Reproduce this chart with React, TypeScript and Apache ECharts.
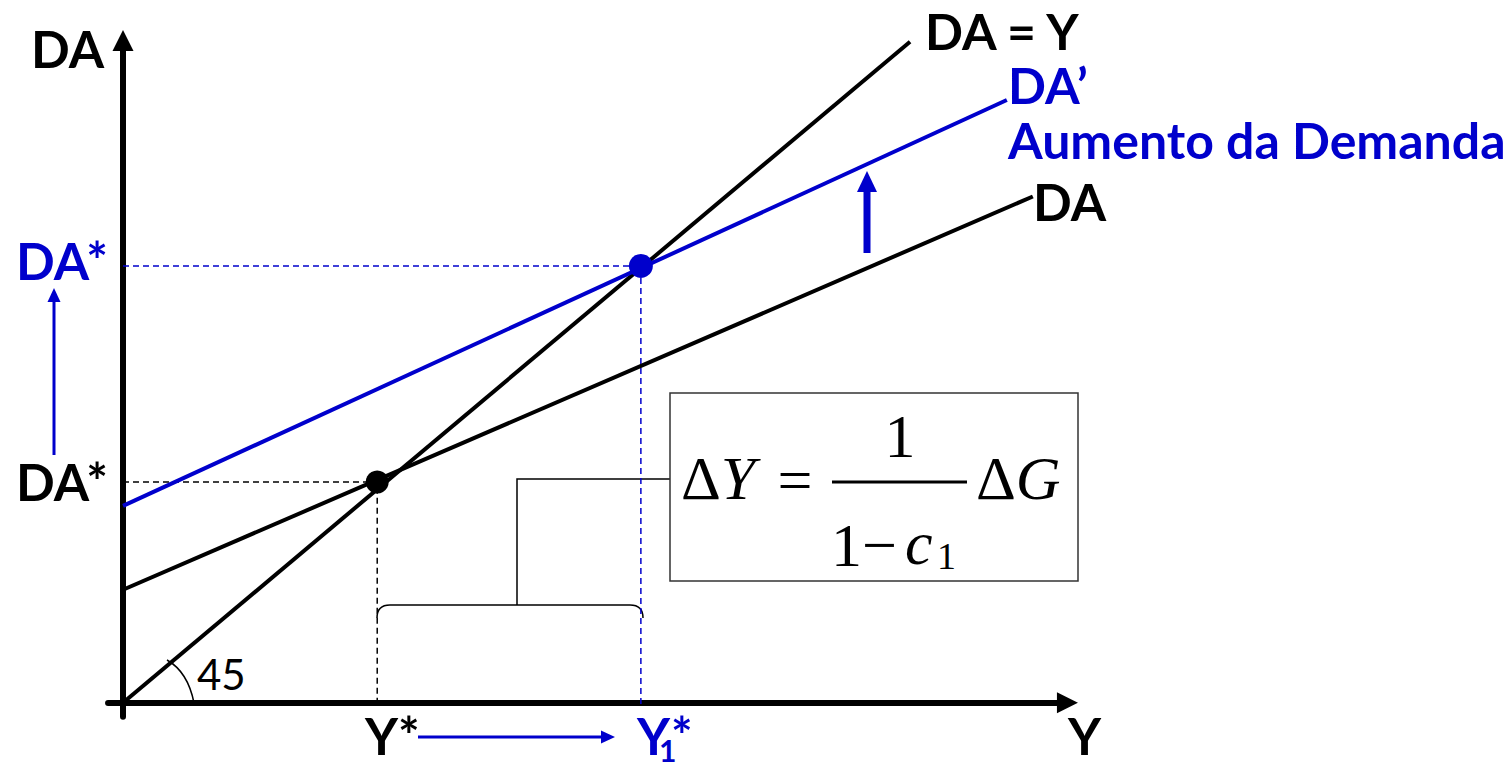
import React, { useEffect, useRef } from "react";
import * as echarts from "echarts";

// Lines of the Keynesian cross (x = income Y, y = demand DA)
const lineDAY: number[][] = [[0, 0], [100, 100]];
const lineDA: number[][] = [[0, 17.1], [115.6, 76.6]];
const lineDA2: number[][] = [[0, 29.8], [112.3, 91.2]];
const eq1: number[] = [32.3, 33.4];
const eq2: number[] = [65.8, 66.1];

const BLUE = "#0000cc";
const SANS = "Lato";
const SERIF = "Liberation Serif";

function arrow(x1: number, y1: number, x2: number, y2: number, w: number, hw: number, hl: number, color: string) {
  const dx = x2 - x1, dy = y2 - y1;
  const len = Math.sqrt(dx * dx + dy * dy);
  const ux = dx / len, uy = dy / len;
  const bx = x2 - ux * hl, by = y2 - uy * hl;
  const px = -uy, py = ux;
  return [
    { type: "line", shape: { x1, y1, x2: bx + ux * 1, y2: by + uy * 1 }, style: { stroke: color, lineWidth: w } },
    {
      type: "polygon",
      shape: { points: [[x2, y2], [bx + px * hw / 2, by + py * hw / 2], [bx - px * hw / 2, by - py * hw / 2]] },
      style: { fill: color },
    },
  ];
}

function txt(text: string, x: number, y: number, size: number, color: string, opts: any = {}) {
  return {
    type: "text",
    style: {
      text, x, y,
      fontSize: size,
      fontFamily: opts.family || SANS,
      fontWeight: opts.weight || "bold",
      fontStyle: opts.style || "normal",
      fill: color,
      textAlign: opts.align || "left",
      textVerticalAlign: "middle",
    },
  };
}

export default function App() {
  const ref = useRef<HTMLDivElement>(null);
  useEffect(() => {
    if (!ref.current) return;
    echarts.graphic.registerShape(
      "bracket",
      echarts.graphic.extendPath("M377 618 Q377 605 390 605 L630 605 Q643 605 643 618", {}) as any
    );
    const chart = echarts.init(ref.current, null, { renderer: "svg" });
    const dashed = (color: string) => ({ color, width: 1.5, type: [6, 4] as any });
    chart.setOption({
      animation: false,
      grid: { left: 108.05, top: 40.5, width: 959.4, height: 676.2, containLabel: false },
      xAxis: {
        type: "value", min: -1.9, max: 120.0,
        axisLine: { show: true, onZero: true, symbol: ["none", "triangle"], symbolSize: [21, 21], lineStyle: { color: "#000", width: 6 } },
        axisTick: { show: false }, axisLabel: { show: false }, splitLine: { show: false },
      },
      yAxis: {
        type: "value", min: -2.1, max: 100.2,
        axisLine: { show: true, onZero: true, symbol: ["none", "triangle"], symbolSize: [21, 21], lineStyle: { color: "#000", width: 6 } },
        axisTick: { show: false }, axisLabel: { show: false }, splitLine: { show: false },
      },
      series: [
        { type: "line", data: [[0, eq1[1]], [eq1[0], eq1[1]], [eq1[0], 0]], showSymbol: false, lineStyle: dashed("#000"), z: 1 },
        { type: "line", data: [[0, eq2[1]], [eq2[0], eq2[1]], [eq2[0], -0.3]], showSymbol: false, lineStyle: dashed(BLUE), z: 1 },
        { type: "line", data: lineDAY, showSymbol: false, lineStyle: { color: "#000", width: 4 }, z: 3 },
        { type: "line", data: lineDA, showSymbol: false, lineStyle: { color: "#000", width: 4 }, z: 3 },
        { type: "line", data: lineDA2, showSymbol: false, lineStyle: { color: BLUE, width: 4 }, z: 3 },
        { type: "scatter", data: [eq1], symbolSize: 23, itemStyle: { color: "#000", opacity: 1 }, z: 4 },
        { type: "scatter", data: [eq2], symbolSize: 24, itemStyle: { color: BLUE, opacity: 1 }, z: 4 },
      ],
      graphic: [
        // angle mark
        { type: "bezierCurve", shape: { x1: 167, y1: 660, cpx1: 188, cpy1: 672, x2: 194, y2: 703 }, style: { stroke: "#000", lineWidth: 1.5, fill: "none" } },
        // bracket and connector
        { type: "bracket", x: 0, y: 0, style: { stroke: "#000", lineWidth: 1.5, fill: "none" } },
        { type: "polyline", shape: { points: [[517, 605], [517, 479], [670, 479]] }, style: { stroke: "#000", lineWidth: 1.5, fill: "none" } },
        // formula box
        { type: "rect", shape: { x: 670, y: 393, width: 408, height: 188 }, style: { stroke: "#333", lineWidth: 1.5, fill: "#fff" } },
        {
          type: "text",
          style: {
            text: "{u|Δ}{i|Y}", x: 681, y: 478, textVerticalAlign: "middle",
            rich: { u: { fontFamily: SERIF, fontSize: 62, fill: "#000" }, i: { fontFamily: SERIF, fontSize: 62, fontStyle: "italic", fill: "#000" } },
          },
        },
        txt("=", 795, 480, 62, "#000", { family: SERIF, weight: "normal", align: "center" }),
        { type: "line", shape: { x1: 832, y1: 482, x2: 967, y2: 482 }, style: { stroke: "#000", lineWidth: 3 } },
        txt("1", 900, 436, 62, "#000", { family: SERIF, weight: "normal", align: "center" }),
        txt("1\u2212", 831, 545, 62, "#000", { family: SERIF, weight: "normal" }),
        txt("c", 905, 543, 62, "#000", { family: SERIF, weight: "normal", style: "italic" }),
        txt("1", 937, 556, 38, "#000", { family: SERIF, weight: "normal" }),
        {
          type: "text",
          style: {
            text: "{u|Δ}{i|G}", x: 976, y: 478, textVerticalAlign: "middle",
            rich: { u: { fontFamily: SERIF, fontSize: 62, fill: "#000" }, i: { fontFamily: SERIF, fontSize: 62, fontStyle: "italic", fill: "#000" } },
          },
        },
        // arrows
        ...arrow(54, 455, 54, 288, 3, 13, 14, BLUE),
        ...arrow(867, 253, 867, 171, 7, 20, 21, BLUE),
        ...arrow(418, 737, 615, 737, 3, 13, 14, BLUE),
        // labels
        txt("DA", 31, 48, 51, "#000"),
        txt("DA = Y", 925, 31, 50, "#000"),
        txt("DA\u2019", 1008, 85, 50, BLUE),
        txt("Aumento da Demanda", 1008, 140, 50, BLUE),
        txt("DA", 1033, 201, 51, "#000"),
        txt("DA*", 16, 260, 51, BLUE),
        txt("DA*", 16, 481, 51, "#000"),
        txt("Y*", 365, 735, 51, "#000"),
        txt("Y", 637, 735, 51, BLUE),
        txt("1", 659, 750, 30, BLUE),
        txt("*", 671, 735, 51, BLUE),
        txt("Y", 1068, 735, 51, "#000"),
        txt("45", 197, 674, 42, "#000", { weight: "normal" }),
      ],
    });
    return () => chart.dispose();
  }, []);
  return <div ref={ref} style={{ position: "fixed", left: 0, top: 0, width: 1512, height: 767, background: "#fff" }} />;
}
